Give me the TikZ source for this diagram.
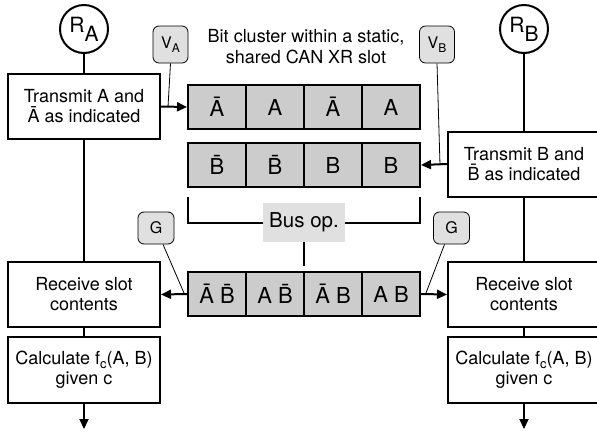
\documentclass[tikz,border=0pt]{standalone}
\usepackage{fontspec}
\setmainfont{TeX Gyre Heros}
\usetikzlibrary{arrows.meta}
\definecolor{cellgray}{gray}{0.80}
\definecolor{taggray}{gray}{0.88}
\newcommand{\negbit}[1]{\accent"00AF #1}

\begin{document}
\begin{tikzpicture}%
	[x=1pt, y=-1pt,
	font=\fontsize{18}{20}\selectfont,
	procbox/.style={draw=black, line width=2pt, fill=white, minimum width=152pt, minimum height=65pt, inner sep=0pt, align=center},
	rolecirc/.style={circle, draw=black, line width=2pt, minimum size=48pt, inner sep=0pt, font=\fontsize{21}{21}\selectfont},
	bitcell/.style={draw=black, line width=2pt, fill=cellgray, minimum width=58pt, minimum height=44pt, inner sep=0pt, font=\fontsize{22}{22}\selectfont},
	tagbox/.style={draw=black, line width=0.8pt, rounded corners=6pt, fill=taggray, minimum width=36pt, minimum height=34pt, inner sep=0pt, font=\fontsize{16}{16}\selectfont},
	busbox/.style={fill=taggray, minimum width=82pt, minimum height=39pt, inner sep=0pt, font=\fontsize{20.5}{20.5}\selectfont},
	link/.style={line width=2pt},
	flowarrow/.style={link, -{Triangle[length=10pt,width=9pt]}},
	pointer/.style={line width=0.8pt}]
\useasboundingbox (0,0) rectangle (597,437);
%%
%% Process boxes and roles
%%
\node[rolecirc] (ra) at (84,29) {R\raisebox{-9pt}{A}};
\node[rolecirc] (rb) at (524,29) {R\raisebox{-9pt}{B}};
\node[procbox] (txa) at (84,106.5) {Transmit A and\\\=A as indicated};
\node[procbox] (txb) at (524,164) {Transmit B and\\\negbit{B} as indicated};
\node[procbox] (rxa) at (84,294.5) {Receive slot\\contents};
\node[procbox] (rxb) at (524,294.5) {Receive slot\\contents};
\node[procbox, minimum height=66pt] (cla) at (84,370) {Calculate f\raisebox{-3.5pt}{\fontsize{13}{13}\selectfont c}(A, B)\\given c};
\node[procbox, minimum height=66pt] (clb) at (524,370) {Calculate f\raisebox{-3.5pt}{\fontsize{13}{13}\selectfont c}(A, B)\\given c};
%%
%% The slot cells
%%
\node[align=center, font=\fontsize{18}{21}\selectfont] (title) at (306,47) {Bit cluster within a static,\\shared CAN XR slot};
\foreach \lbl [count=\i] in {\=A, A, \=A, A}
	\node[bitcell] (a\i) at (159+58*\i,107) {\lbl};
\foreach \lbl [count=\i] in {\negbit{B}, \negbit{B}, B, B}
	\node[bitcell] (b\i) at (159+58*\i,165) {\lbl};
\foreach \lbl [count=\i] in {{\=A \negbit{B}}, {A \negbit{B}}, {\=A B}, {A B}}
	\node[bitcell] (c\i) at (159+58*\i,294) {\lbl};
%%
%% Bus operation bracket
%%
\node[busbox] (bus) at (304,222.5) {Bus op.};
\coordinate (bl) at (188,197);
\coordinate (br) at (420,197);
\coordinate (stem) at (304,266);
\draw[link] (bl) |- (bus.west);
\draw[link] (br) |- (bus.east);
\draw[link] (bus.south) -- (stem);
%%
%% Tags
%%
\node[tagbox, minimum width=35pt, minimum height=37pt] (va) at (170.5,44.5) {V\raisebox{-4pt}{\fontsize{12}{12}\selectfont A}};
\node[tagbox, minimum width=35pt, minimum height=37pt] (vb) at (437,44.5) {V\raisebox{-4pt}{\fontsize{12}{12}\selectfont B}};
\node[tagbox, minimum height=32pt] (ga) at (156,228) {G};
\node[tagbox, minimum height=32pt] (gb) at (451.5,228) {G};
%%
%% Connectors
%%
\draw[link] (ra) -- (txa);
\draw[link] (rb) -- (txb);
\draw[link] (txa) -- (rxa);
\draw[link] (txb) -- (rxb);
\draw[link] (rxa) -- (cla);
\draw[link] (rxb) -- (clb);
\coordinate (enda) at (84,429);
\coordinate (endb) at (524,429);
\draw[flowarrow] (cla.south) -- (enda);
\draw[flowarrow] (clb.south) -- (endb);
\draw[flowarrow] (txa.east) -- (a1.west);
\draw[flowarrow] (txb.west) -- (b4.east);
\draw[flowarrow] (c1.west) -- (rxa.east);
\draw[flowarrow] (c4.east) -- (rxb.west);
\coordinate (pa) at (168,107);
\coordinate (pb) at (440,165);
\coordinate (qa) at (184,293);
\coordinate (qb) at (426,293);
\draw[pointer] (va.south) -- (pa);
\draw[pointer] (vb.south) -- (pb);
\draw[pointer] ([xshift=7pt]ga.south) -- (qa);
\draw[pointer] ([xshift=-7pt]gb.south) -- (qb);
%%
\end{tikzpicture}
\end{document}
